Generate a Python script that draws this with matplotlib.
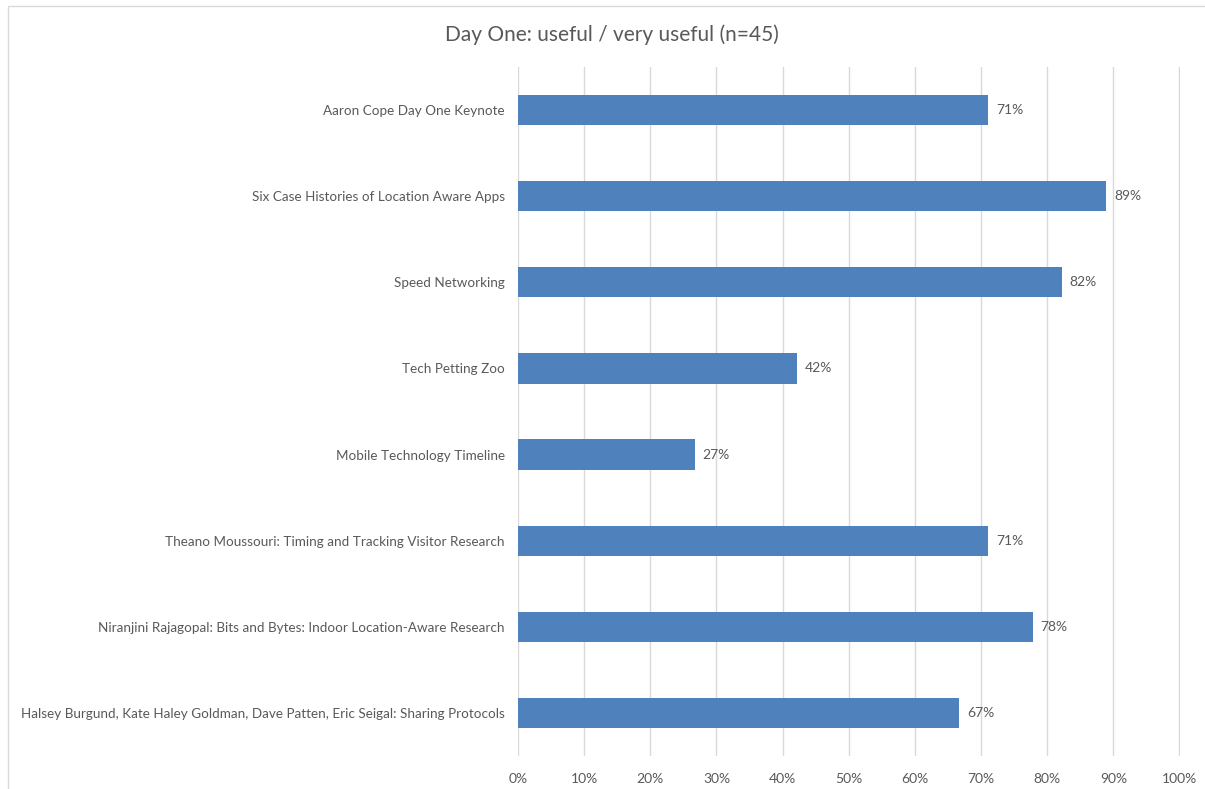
import matplotlib.pyplot as plt
from matplotlib.ticker import PercentFormatter
from matplotlib.patches import Rectangle

sessions = [
    'Aaron Cope Day One Keynote',
    'Six Case Histories of Location Aware Apps',
    'Speed Networking',
    'Tech Petting Zoo',
    'Mobile Technology Timeline',
    'Theano Moussouri: Timing and Tracking Visitor Research',
    'Niranjini Rajagopal: Bits and Bytes: Indoor Location-Aware Research',
    'Halsey Burgund, Kate Haley Goldman, Dave Patten, Eric Seigal: Sharing Protocols',
]
useful_share = [0.711, 0.889, 0.822, 0.422, 0.267, 0.711, 0.778, 0.667]
x_ticks = [i / 10 for i in range(11)]

plt.rcParams['font.family'] = ['Lato', 'DejaVu Sans']
text_color = '#595959'
grid_color = '#D9D9D9'

fig = plt.figure(figsize=(12.05, 7.89), dpi=100)
# chart frame: only left and top edges fall inside the picture
fig.patches.append(Rectangle((8 / 1205, -0.05), 1.1, 1.05 - 6 / 789,
                             transform=fig.transFigure, fill=False,
                             edgecolor='#D9D9D9', linewidth=1))
ax = fig.add_axes([518 / 1205, 1 - 756 / 789, (1180 - 518) / 1205, (756 - 67) / 789])

ypos = list(range(len(sessions)))
ax.barh(ypos, useful_share, height=0.35, color='#4F81BD', zorder=3)
for y, v in zip(ypos, useful_share):
    ax.text(v + 0.012, y, f'{v:.0%}', va='center', ha='left', fontsize=10, color=text_color)

ax.set_yticks(ypos)
ax.set_yticklabels(sessions, fontsize=9.75, color=text_color)
ax.set_ylim(len(sessions) - 0.5, -0.5)
ax.set_xlim(0, 1.0008)
ax.set_xticks(x_ticks)
ax.xaxis.set_major_formatter(PercentFormatter(1.0, decimals=0))
ax.tick_params(axis='x', labelsize=10, labelcolor=text_color, length=0, pad=12)
ax.tick_params(axis='y', length=0, pad=9.5)
ax.grid(axis='x', color=grid_color, linewidth=1, zorder=0)
for s in ax.spines.values():
    s.set_visible(False)

fig.text(612 / 1205, 1 - 35 / 789, 'Day One: useful / very useful (n=45)', ha='center', va='center',
         fontsize=15, color=text_color)

fig.savefig('out.png', dpi=100)
